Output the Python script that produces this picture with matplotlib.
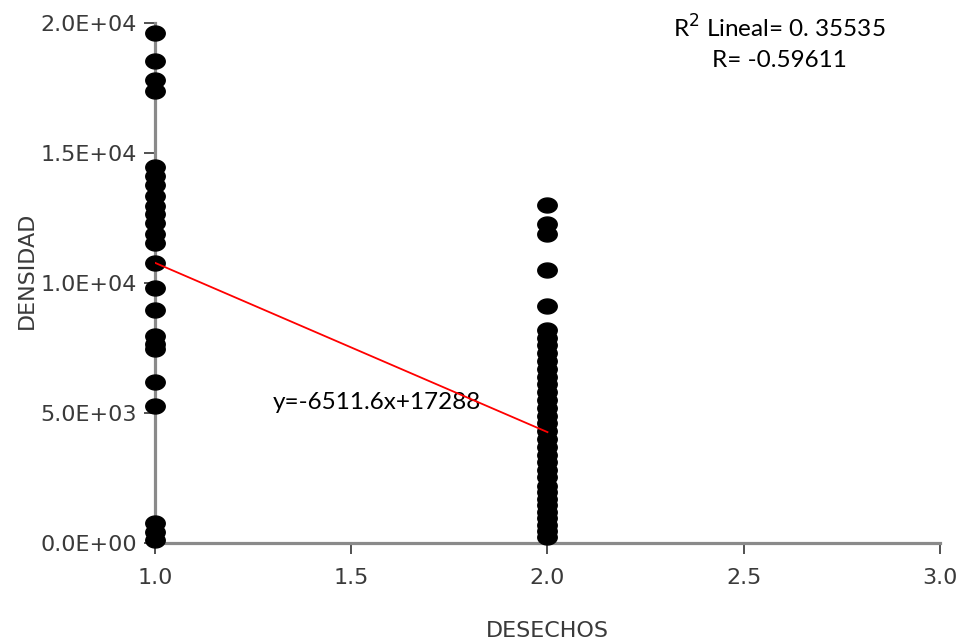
import numpy as np
import matplotlib
matplotlib.use("Agg")
import matplotlib.pyplot as plt
from matplotlib.path import Path

plt.rcParams["font.family"] = ["DejaVu Sans"]

# Observed DENSIDAD values for each DESECHOS group
desechos_1 = [19600, 18550, 17800, 17400, 14450, 14100, 13750, 13350, 12950, 12650,
              12300, 11900, 11550, 10750, 9800, 8950, 7950, 7650, 7450, 6200, 5250,
              780, 420, 120]
desechos_2 = [13000, 12250, 11900, 10500, 9100, 8200, 7900, 7600, 7300, 7000, 6700,
              6400, 6100, 5800, 5500, 5200, 4900, 4600, 4300, 4000, 3700, 3400,
              3100, 2800, 2550, 2200, 1950, 1700, 1450, 1200, 950, 700, 450, 250]

# Linear fit reported on the chart
slope = -6511.6
intercept = 17288
r2_text = "R$^2$ Lineal= 0. 35535"
r_text = "R= -0.59611"
eq_text = "y=-6511.6x+17288"

x_ticks = [1.0, 1.5, 2.0, 2.5, 3.0]
y_ticks = [0, 5000, 10000, 15000, 20000]
y_ticklabels = ["0.0E+00", "5.0E+03", "1.0E+04", "1.5E+04", "2.0E+04"]

fig = plt.figure(figsize=(9.67, 6.42), dpi=100)
ax = fig.add_axes([0.1603, 0.1542, 0.8117, 0.81])

# slightly wide elliptical dot marker
t = np.linspace(0, 2 * np.pi, 60)
ell = Path(np.column_stack([1.3 * np.cos(t), np.sin(t)]), closed=True)

ax.plot([1] * len(desechos_1), desechos_1, linestyle="none", marker=ell,
        markersize=14, color="black", clip_on=False, zorder=3)
ax.plot([2] * len(desechos_2), desechos_2, linestyle="none", marker=ell,
        markersize=14, color="black", clip_on=False, zorder=3)

xf = np.array([1.0, 2.0])
ax.plot(xf, slope * xf + intercept, color="red", linewidth=1.3, zorder=4)

ax.set_xlim(1.0, 3.0)
ax.set_ylim(0, 20000)
ax.set_xticks(x_ticks)
ax.set_xticklabels([f"{v:.1f}" for v in x_ticks])
ax.set_yticks(y_ticks)
ax.set_yticklabels(y_ticklabels)

for side in ("top", "right"):
    ax.spines[side].set_visible(False)
for side in ("left", "bottom"):
    ax.spines[side].set_color("#8a8a8a")
    ax.spines[side].set_linewidth(2.3)

ax.tick_params(axis="both", direction="out", length=8, width=1.2, color="#333333",
               labelsize=16, labelcolor="#3a3a3a")
ax.tick_params(axis="x", pad=10)
ax.tick_params(axis="y", pad=5)

ax.set_xlabel("DESECHOS", fontsize=16, color="#3a3a3a", labelpad=24)
ax.set_ylabel("DENSIDAD", fontsize=16, color="#3a3a3a")
ax.yaxis.set_label_coords(-0.15, 0.525)

ax.text(0.795, 0.99, r2_text, transform=ax.transAxes, ha="center", va="center",
        fontsize=17.5, family="Lato", color="black")
ax.text(0.795, 0.928, r_text, transform=ax.transAxes, ha="center", va="center",
        fontsize=17.5, family="Lato", color="black")
ax.text(1.30, 5400, eq_text, ha="left", va="center", fontsize=17.5, family="Lato",
        color="black")

fig.savefig("out.png", dpi=100)
